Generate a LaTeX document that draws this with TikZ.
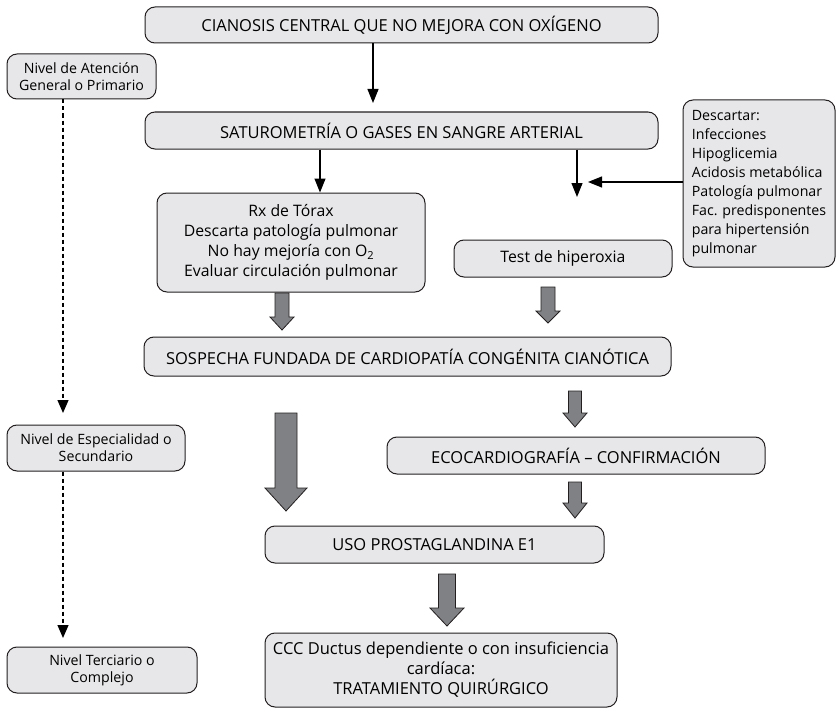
\documentclass[tikz,border=0pt]{standalone}
\usepackage{fontspec}
\setmainfont{Open Sans}
\usetikzlibrary{arrows.meta,calc}
\definecolor{boxfill}{RGB}{231,231,233}
\definecolor{boxline}{RGB}{35,31,32}
\definecolor{arrowfill}{RGB}{128,129,132}
\newcommand\fcaps{\fontsize{16.5}{20}\selectfont}
\newcommand\fmix{\fontsize{15.8}{20}\selectfont}
\newcommand\fccc{\fontsize{16.5}{20}\selectfont}
\newcommand\fdesc{\fontsize{14.2}{19}\selectfont}
\newcommand\fniv{\fontsize{14.2}{17}\selectfont}
% \boxnode{name}{x1}{y1}{x2}{y2}{options}{text}
\newcommand\boxnode[7]{%
  \node[box,#6,minimum width={(#4-#2)*1pt},minimum height={(#5-#3)*1pt}]
    (#1) at ({(#2+#4)/2},{(#3+#5)/2}) {#7};}
% \garrow{cx}{ytop}{ytip}{shaft half}{head half}{head length}
\newcommand\garrow[6]{%
  \filldraw[grayarrow] ({#1-#4},#2) -- ({#1-#4},{#3-#6}) -- ({#1-#5},{#3-#6})
    -- (#1,#3) -- ({#1+#5},{#3-#6}) -- ({#1+#4},{#3-#6}) -- ({#1+#4},#2) -- cycle;}
\begin{document}
\begin{tikzpicture}[x=1pt,y=-1pt,
  box/.style={draw=boxline, fill=boxfill, rounded corners=10pt, line width=1pt,
    inner sep=0pt, align=center, font=\fcaps},
  thinarrow/.style={draw=black, line width=1.2pt, -{Triangle[length=14pt,width=11pt]}},
  dasharrow/.style={draw=black, line width=1.2pt, dash pattern=on 4pt off 3pt,
    -{Triangle[length=13pt,width=11pt]}},
  grayarrow/.style={fill=arrowfill, draw=boxline, line width=0.8pt, line join=miter}]
\useasboundingbox (0,0) rectangle (836,709);

% main boxes
\boxnode{cian}{145}{7}{658}{43}{}{CIANOSIS CENTRAL QUE NO MEJORA CON OXÍGENO}
\boxnode{sat}{145}{112}{658}{149}{}{SATUROMETRÍA O GASES EN SANGRE ARTERIAL}
\boxnode{rx}{157}{193}{425}{292}{font=\fmix}{Rx de Tórax\\Descarta patología pulmonar\\No hay mejoría con O\textsubscript{2}\\Evaluar circulación pulmonar}
\boxnode{test}{454}{240}{672}{277}{font=\fmix}{Test de hiperoxia}
\boxnode{desc}{683}{100}{835}{267}{align=left,font=\fdesc}{Descartar:\\Infecciones\\Hipoglicemia\\Acidosis metabólica\\Patología pulmonar\\Fac. predisponentes\\para hipertensión\\pulmonar}
\boxnode{sosp}{144}{337}{671}{376}{}{SOSPECHA FUNDADA DE CARDIOPATÍA CONGÉNITA CIANÓTICA}
\boxnode{eco}{387}{437}{765}{474}{}{ECOCARDIOGRAFÍA – CONFIRMACIÓN}
\boxnode{uso}{265}{526}{604}{563}{}{USO PROSTAGLANDINA E1}
\boxnode{ccc}{265}{633}{617}{707}{font=\fccc}{CCC Ductus dependiente o con insuficiencia\\cardíaca:\\TRATAMIENTO QUIRÚRGICO}

% level boxes
\boxnode{nat}{7}{54}{156}{99}{font=\fniv}{Nivel de Atención\\General o Primario}
\boxnode{nes}{7}{425}{185}{471}{font=\fniv}{Nivel de Especialidad o\\Secundario}
\boxnode{nter}{7}{647}{197}{693}{font=\fniv}{Nivel Terciario o\\Complejo}

% thin arrows
\coordinate (t1) at (373,103);
\coordinate (t2) at (320,0);
\coordinate (t3) at (577,197);
\coordinate (t4) at (588,182);
\draw[thinarrow] (cian.south -| t1) -- (t1);
\draw[thinarrow] (sat.south -| t2) -- (rx.north -| t2);
\draw[thinarrow] (sat.south -| t3) -- (t3);
\draw[thinarrow] (desc.west |- t4) -- (t4);

% dashed level arrows
\coordinate (d1) at (63,413);
\coordinate (d2) at (63,638);
\draw[dasharrow] (nat.south -| d1) -- (d1);
\draw[dasharrow] (nes.south -| d2) -- (d2);

% gray block arrows
\garrow{282}{293}{330}{7}{12}{13}
\garrow{548}{287}{323}{7}{12}{12}
\garrow{575}{391}{427}{6.5}{12}{14}
\garrow{575}{482}{518}{6.5}{12}{15}
\garrow{286}{413}{511}{11}{21}{23}
\garrow{447}{574}{626}{8.5}{17}{18}
\end{tikzpicture}
\end{document}
